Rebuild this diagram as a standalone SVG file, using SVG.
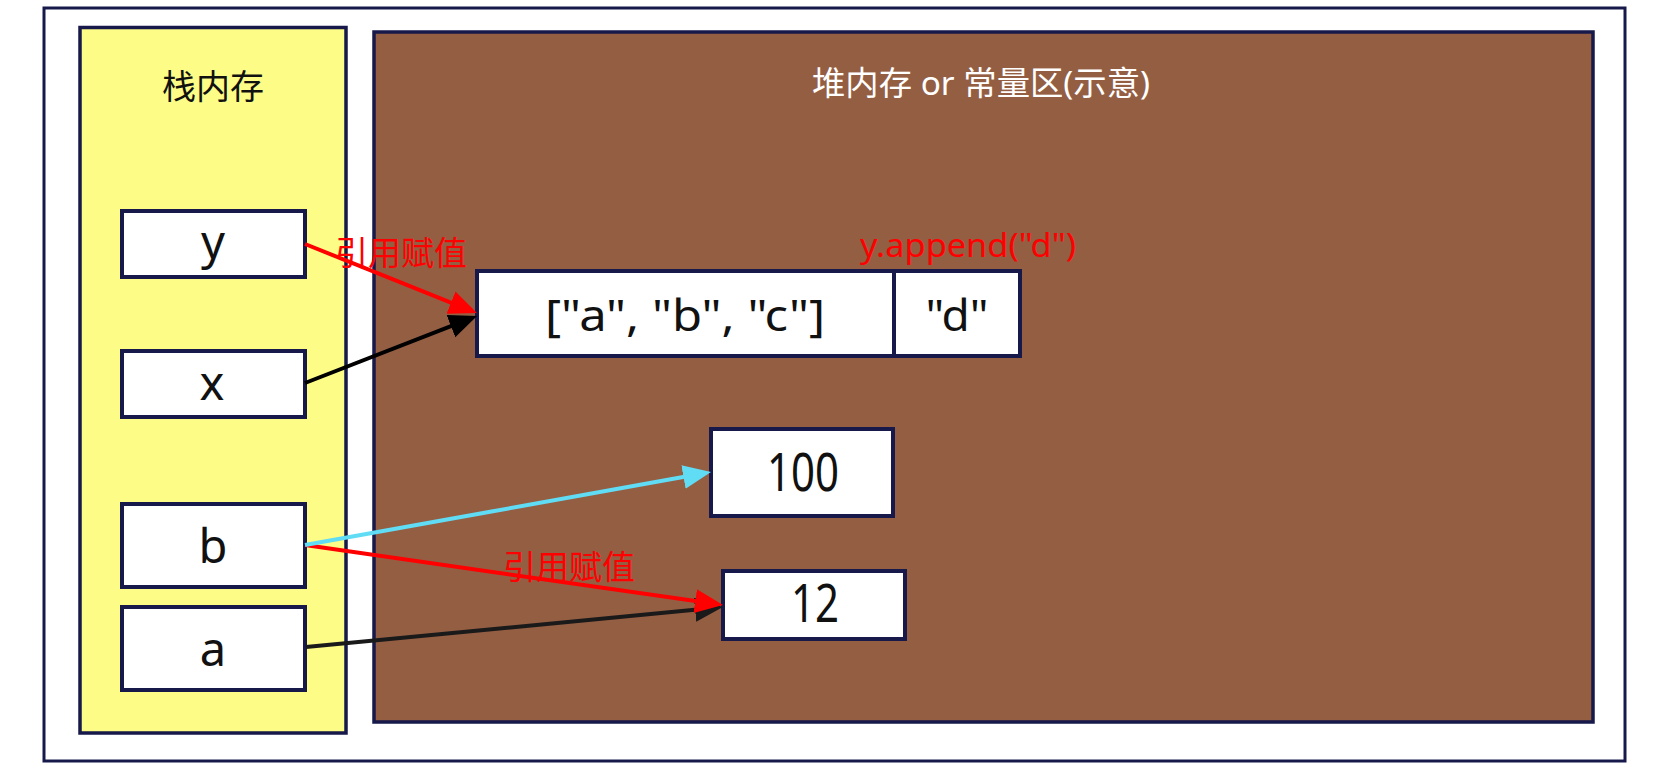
<svg xmlns="http://www.w3.org/2000/svg" width="1674" height="777" viewBox="0 0 1674 777">
<style>
.frame{fill:#ffffff;stroke:#16194A;stroke-width:3}
.panel{stroke:#16194A;stroke-width:3.5}
.box{fill:#ffffff;stroke:#16194A;stroke-width:4}
.t{font-family:"Noto Sans","Noto Sans CJK SC",sans-serif;fill:#111111}
.lab{font-family:"Noto Sans","Noto Sans CJK SC",sans-serif;fill:#FF0000;font-size:33px}
.conn{fill:none;stroke-width:4}
</style>
<defs>
<marker id="ah-red" markerUnits="userSpaceOnUse" markerWidth="30" markerHeight="26" refX="18" refY="12" orient="auto"><path d="M0,0 L28,12 L0,24 z" fill="#FF0000"/></marker>
<marker id="ah-black" markerUnits="userSpaceOnUse" markerWidth="30" markerHeight="26" refX="18" refY="12" orient="auto"><path d="M0,0 L28,12 L0,24 z" fill="#000000"/></marker>
<marker id="ah-dark" markerUnits="userSpaceOnUse" markerWidth="30" markerHeight="26" refX="18" refY="12" orient="auto"><path d="M0,0 L28,12 L0,24 z" fill="#1A1A1A"/></marker>
<marker id="ah-cyan" markerUnits="userSpaceOnUse" markerWidth="30" markerHeight="26" refX="18" refY="12" orient="auto"><path d="M0,0 L28,12 L0,24 z" fill="#60DCF5"/></marker>
</defs>
<rect width="1674" height="777" fill="#ffffff"/>
<g id="outer"><rect class="frame" x="44" y="8" width="1581" height="753"/></g>
<g id="stack">
<rect class="panel" x="80" y="27.5" width="266" height="705.5" fill="#FCFC86"/>
<text class="t" x="213" y="99" font-size="34" text-anchor="middle">栈内存</text>
</g>
<g id="heap">
<rect class="panel" x="374" y="32" width="1219" height="690" fill="#945E43"/>
<text class="t" x="981" y="95" font-size="33" text-anchor="middle" style="fill:#ffffff" textLength="338" lengthAdjust="spacingAndGlyphs">堆内存 or 常量区(示意)</text>
</g>
<g id="var-y"><rect class="box" x="122" y="211" width="183" height="66"/><text class="t" x="213" y="259" font-size="47" text-anchor="middle">y</text></g>
<g id="var-x"><rect class="box" x="122" y="351" width="183" height="66"/><text class="t" x="212" y="400" font-size="47" text-anchor="middle">x</text></g>
<g id="var-b"><rect class="box" x="122" y="504" width="183" height="83"/><text class="t" x="213" y="563" font-size="47" text-anchor="middle">b</text></g>
<g id="var-a"><rect class="box" x="122" y="607" width="183" height="83"/><text class="t" x="213" y="666" font-size="47" text-anchor="middle">a</text></g>
<g id="list">
<rect class="box" x="477" y="271" width="417" height="85"/>
<rect class="box" x="894" y="271" width="126" height="85"/>
<text class="t" x="685" y="331" font-size="44" text-anchor="middle" textLength="280" lengthAdjust="spacingAndGlyphs">["a", "b", "c"]</text>
<text class="t" x="957" y="331" font-size="44" text-anchor="middle" textLength="63" lengthAdjust="spacingAndGlyphs">"d"</text>
</g>
<g id="val-100"><rect class="box" x="711" y="429" width="182" height="87"/><text class="t" x="803" y="491" font-size="52" text-anchor="middle" textLength="72" lengthAdjust="spacingAndGlyphs">100</text></g>
<g id="val-12"><rect class="box" x="723" y="571" width="182" height="68"/><text class="t" x="815" y="622" font-size="52" text-anchor="middle" textLength="48" lengthAdjust="spacingAndGlyphs">12</text></g>
<g id="connectors">
<line class="conn" x1="306" y1="647" x2="713" y2="608" stroke="#1A1A1A" marker-end="url(#ah-dark)"/>
<line class="conn" x1="305" y1="545" x2="713.1" y2="603.6" stroke="#FF0000" marker-end="url(#ah-red)"/>
<line class="conn" x1="305" y1="545" x2="701.2" y2="473.8" stroke="#60DCF5" marker-end="url(#ah-cyan)"/>
<line class="conn" x1="305" y1="383" x2="467.7" y2="319.6" stroke="#000000" marker-end="url(#ah-black)"/>
<line class="conn" x1="305" y1="244" x2="467.7" y2="309.3" stroke="#FF0000" marker-end="url(#ah-red)"/>
<text class="lab" x="335" y="265" textLength="132" lengthAdjust="spacingAndGlyphs">引用赋值</text>
<text class="lab" x="503" y="579" textLength="132" lengthAdjust="spacingAndGlyphs">引用赋值</text>
<text class="lab" x="860" y="257" font-size="30" textLength="216" lengthAdjust="spacingAndGlyphs">y.append("d")</text>
</g>
</svg>
